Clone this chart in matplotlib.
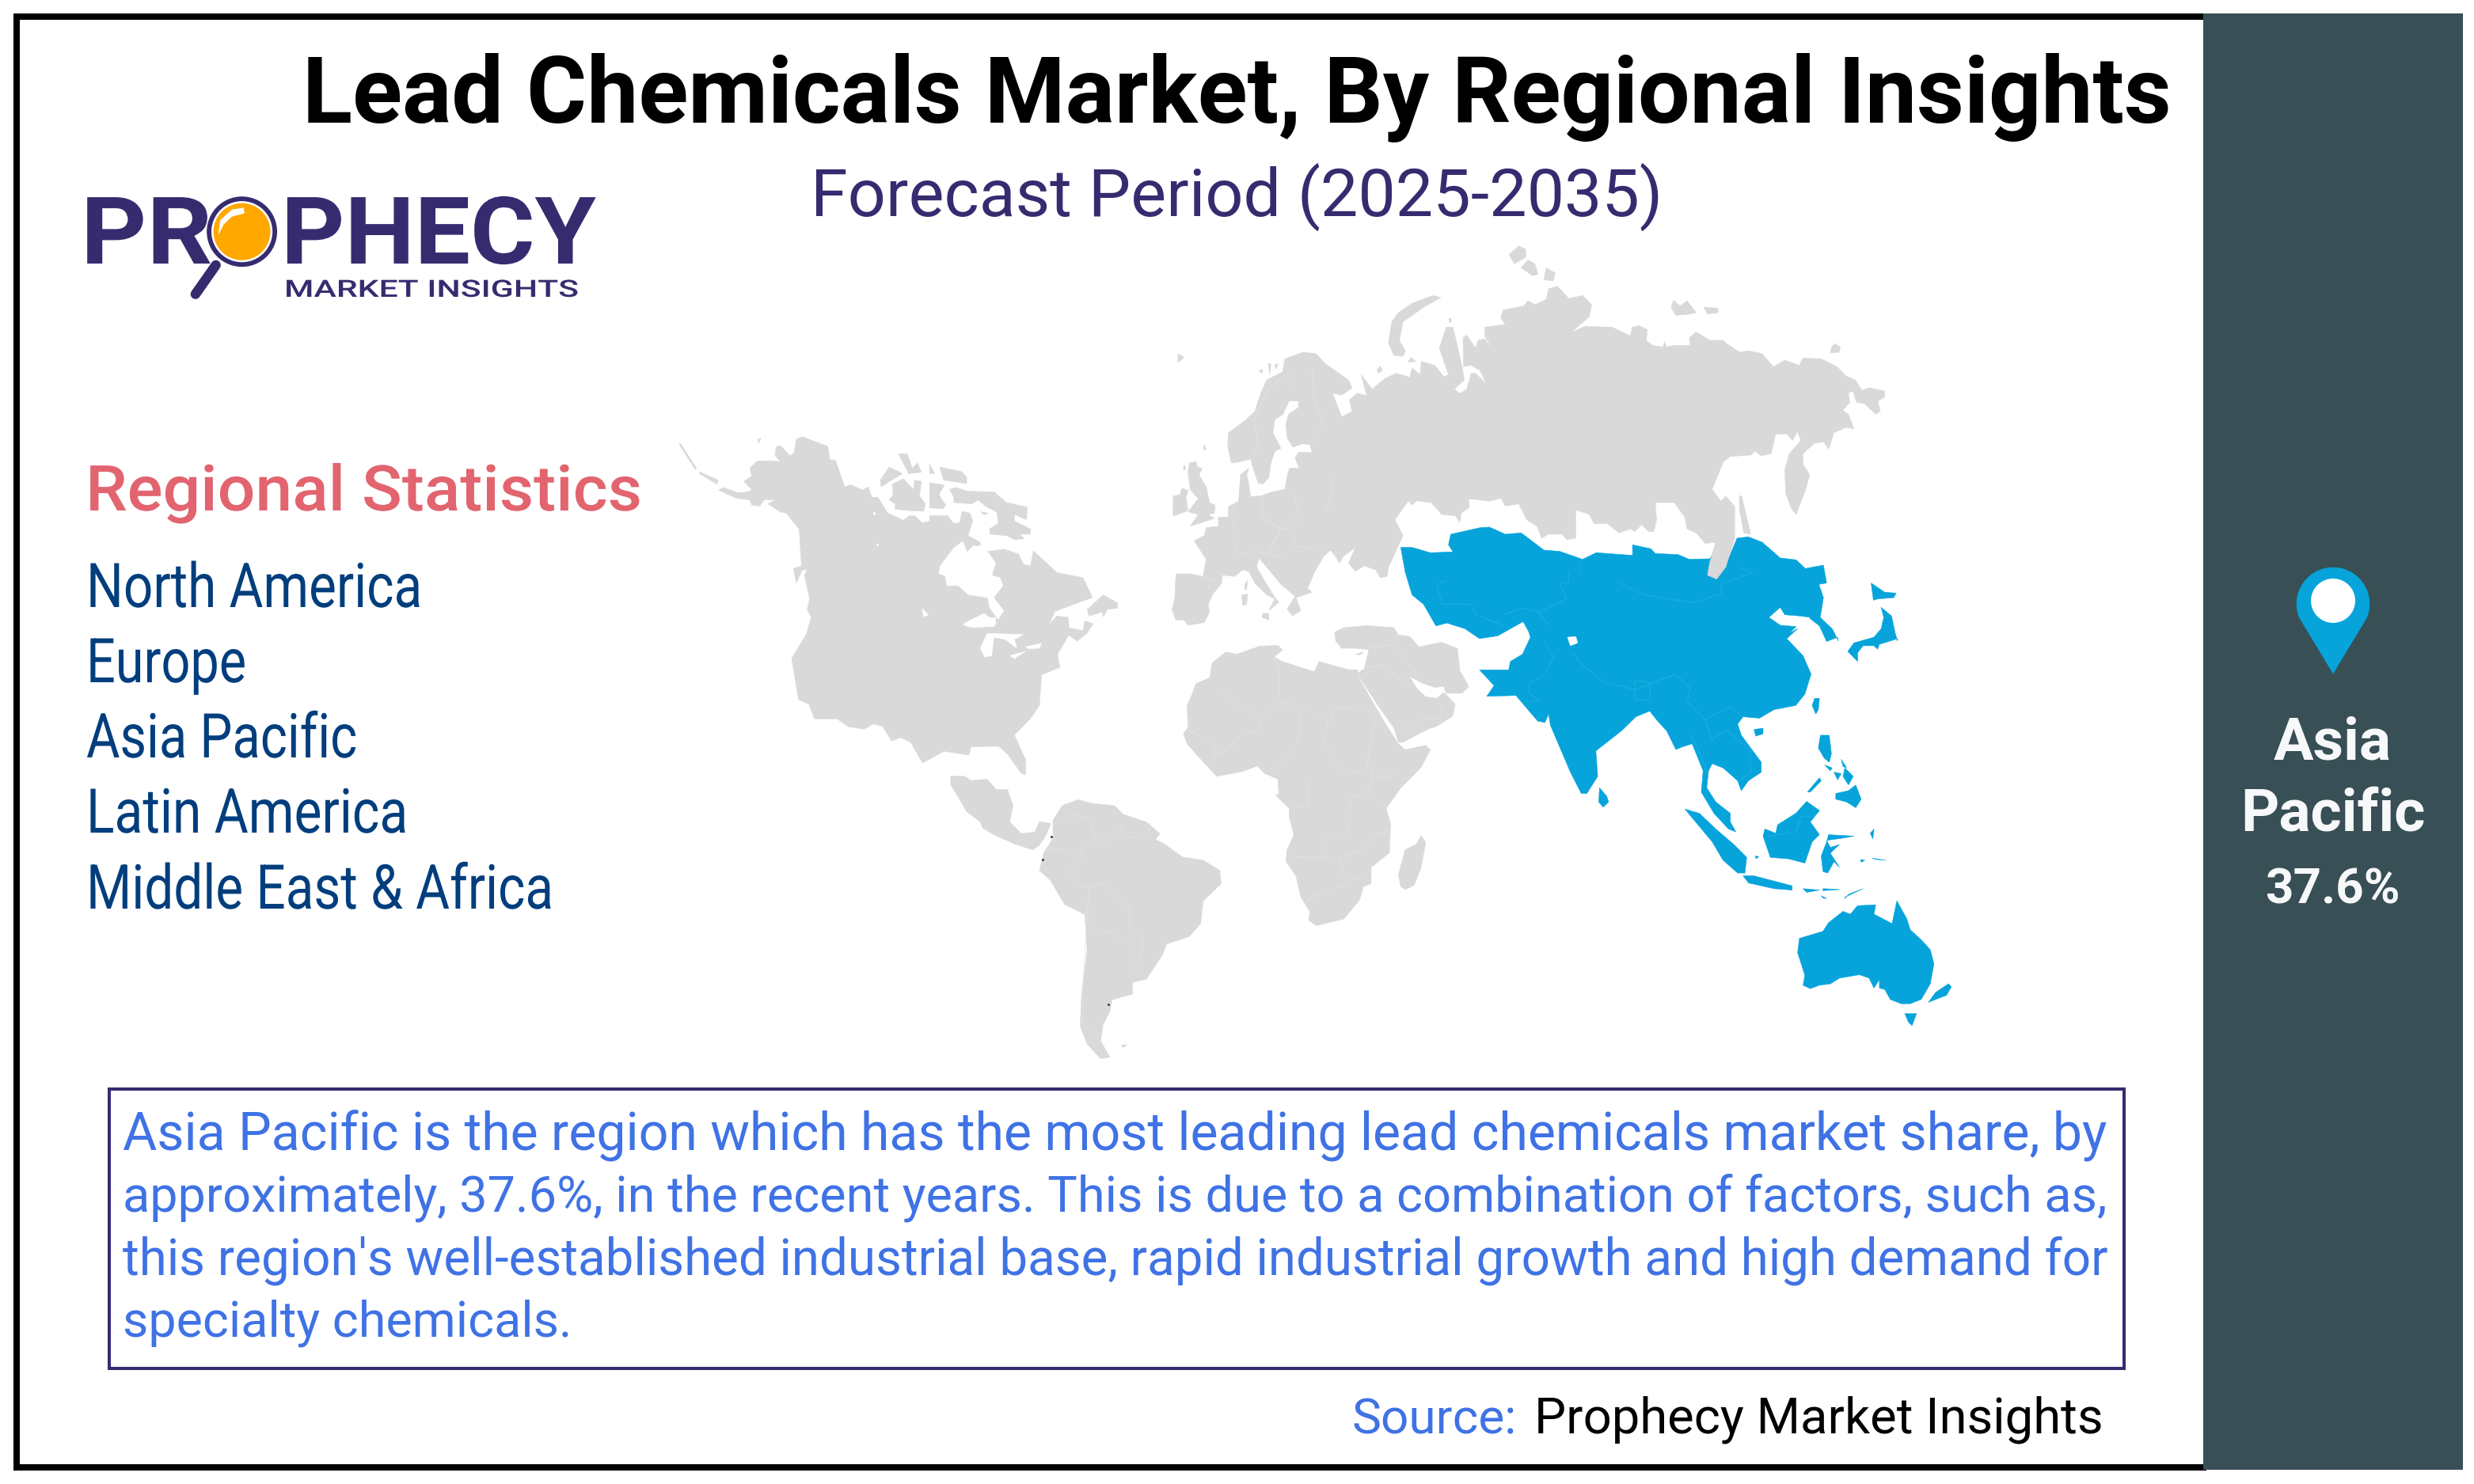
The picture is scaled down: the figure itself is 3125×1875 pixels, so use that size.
import numpy as np
import matplotlib
matplotlib.use("Agg")
import matplotlib.pyplot as plt
from matplotlib.patches import Polygon, Rectangle, Circle
from matplotlib.patheffects import AbstractPathEffect
from matplotlib.transforms import Affine2D

# ---------- text content ----------
TITLE = "Lead Chemicals Market, By Regional Insights"
SUBTITLE = "Forecast Period (2025-2035)"
STATS_HEAD = "Regional Statistics"
REGIONS = ["North America", "Europe", "Asia Pacific", "Latin America", "Middle East & Africa"]
BODY = ["Asia Pacific is the region which has the most leading lead chemicals market share, by",
        "approximately, 37.6%, in the recent years. This is due to a combination of factors, such as,",
        "this region's well-established industrial base, rapid industrial growth and high demand for",
        "specialty chemicals."]
SOURCE_LABEL = "Source:"
SOURCE_NAME = "Prophecy Market Insights"
TOP_REGION = ["Asia", "Pacific"]
TOP_SHARE = "37.6%"

# ---------- map outlines, traced in four reading frames (x0, y0, sx, sy) ----------
F1 = (840, 290, 1.96, 3.0)
F2 = (1600, 290, 1.742, 3.0)
F3 = (1000, 780, 1.742, 2.69)
F4 = (1800, 780, 2.178, 2.786)
F5 = (60, 210, 2.06, 3.0)

def fr(frame, pts):
    a = np.array(pts, float)
    return np.c_[frame[0] + a[:, 0] / frame[2], frame[1] + a[:, 1] / frame[3]]

NA_NORTH = [(133,988),(145,978),(180,998),(205,995),(215,985),(195,955),(215,935),(210,905),(228,877),(262,877),(285,880),(272,855),(275,825),(285,818),(310,858),(320,845),(325,795),(340,785),(365,800),(403,822),(408,872),(422,875),(445,975),(460,968),(490,988),(503,975),(512,1015),(527,1015),(552,1075),(590,1102),(605,1085),(618,1085),(637,1112),(655,1105),(655,1085),(700,1085),(715,1115),(730,1110),(735,1068),(755,1075),(762,1105),(750,1160),(780,1185),(782,1195),(770,1200),(765,1195),(748,1220),(738,1180),(715,1205),(680,1275),(677,1305),(693,1315),(697,1352),(725,1350),(750,1385),(798,1397),(803,1435),(825,1480),(840,1445),(815,1395),(838,1350),(830,1318),(810,1310),(820,1265),(800,1220),(840,1212),(875,1230),(888,1270),(905,1275),(912,1218),(970,1300),(1035,1320),(1058,1395),(1030,1410),(965,1448),(950,1500),(970,1465),(998,1470),(1000,1510),(1035,1520),(1040,1482),(1060,1495),(1045,1530),(1020,1560)]
NA_SOUTH = [(610,60),(585,125),(590,170),(550,195),(545,300),(525,345),(490,400),(515,485),(515,535),(505,530),(475,465),(455,438),(395,440),(390,468),(335,455),(288,495),(262,425),(240,408),(220,420),(200,370),(180,362),(160,380),(125,372),(100,345),(50,345),(38,295),(15,280),(0,140),(35,50),(45,0)]
NA_WEST = [(345,1560),(362,1470),(352,1440),(358,1400),(345,1310),(352,1290),(340,1290),(325,1340),(318,1285),(338,1275),(332,1135),(300,1075),(285,1070),(255,1040),(273,1025),(245,1025),(235,1048),(215,1045),(210,1025),(175,1018)]
NA_ISLANDS = [
    [(38,810),(78,905),(75,910),(35,815)], [(85,918),(132,950),(128,965),(85,925)],
    [(230,795),(238,790),(232,810)],
    [(533,950),(555,900),(588,925),(535,975)],
    [(563,965),(590,945),(615,985),(618,950),(635,955),(630,1010),(645,1040),(640,1068),(600,1065),(570,1060),(570,1040),(555,1025),(565,1005)],
    [(578,850),(600,850),(612,905),(625,885),(635,920),(603,925)],
    [(655,890),(668,925),(655,925)],
    [(680,900),(735,918),(747,940),(747,963),(690,950)],
    [(655,960),(692,968),(678,1005),(695,1045),(688,1058),(655,1055)],
    [(705,985),(720,978),(750,992),(815,995),(845,1035),(897,1052),(895,1100),(865,1080),(865,1105),(905,1135),(905,1155),(877,1155),(890,1172),(865,1175),(845,1160),(805,1155),(803,1135),(825,1115),(822,1072),(795,1050),(775,1025),(760,1040),(715,1035),(715,1015)],
    [(782,1070),(800,1075),(790,1082)],
    [(1045,1440),(1060,1420),(1085,1385),(1120,1415),(1120,1435),(1095,1440),(1085,1468),(1082,1450),(1050,1465)],
    [(1270,470),(1285,485),(1270,505)], [(1335,815),(1340,835),(1333,835)], [(1285,890),(1290,910),(1283,910)],
    [(1298,885),(1315,880),(1318,900),(1330,905),(1322,930),(1340,975),(1348,1035),(1362,1045),(1360,1075),(1345,1080),(1360,1095),(1330,1110),(1300,1125),(1320,1080),(1295,1070),(1320,1020),(1300,985),(1295,920)],
    [(1258,1010),(1275,1005),(1280,980),(1295,990),(1290,1015),(1295,1065),(1270,1080),(1258,1085)],
    [(1480,1455),(1495,1455),(1495,1480),(1478,1470)],
    [(1435,1345),(1442,1330),(1440,1365),(1435,1365)], [(1428,1385),(1442,1382),(1440,1420),(1430,1425)],
    [(1470,535),(1480,530),(1478,545)], [(1493,508),(1500,510),(1498,550)], [(1510,512),(1518,510),(1512,530)],
]
LAKES_F1 = [[(637,1435),(652,1462),(640,1467)], [(738,1495),(790,1455),(820,1490),(815,1505),(750,1505)], [(516,1072),(519,1072),(519,1080),(516,1080)], [(524,1190),(527,1190),(527,1198),(524,1198)]]
LAKES_F3 = [[(378,25),(400,5),(450,0),(445,30),(400,35)], [(430,55),(510,58),(490,75),(495,105),(470,75),(445,68),(440,130),(425,135),(415,105)], [(515,100),(550,88),(545,105),(520,107)], [(480,130),(515,115),(490,140)]]

EURASIA_E = [(105,1300),(125,1240),(140,1215),(150,1235),(160,1265),(168,1240),(195,1205),(180,1265),(195,1295),(215,1275),(240,1290),(250,1320),(265,1315),(268,1280),(300,1160),(282,1100),(312,1028),(320,1045),(330,1028),(362,1035),(385,1080),(415,1085),(425,1110),(428,1075),(445,1055),(445,1020),(490,1030),(515,1018),(525,1048),(555,1040),(572,1100),(595,1125),(605,1170),(620,1155),(650,1155),(660,1175),(680,1170),(680,1063),(710,1080),(720,1115),(750,1115),(775,1150),(800,1135),(810,1145),(825,1118),(840,1145),(852,1145),(858,1100),(855,1035),(897,1035),(920,1090),(925,1135),(945,1150),(965,1190),(988,1185),(975,1260),(970,1310),(990,1325),(1010,1280),(1030,1170),(1030,1050),(1010,1010),(1000,1030),(980,985),(1005,880),(1020,860),(1065,855),(1075,840),(1088,858),(1110,850),(1120,775),(1145,775),(1157,800),(1168,765),(1175,800),(1150,850),(1140,910),(1142,1000),(1155,1060),(1165,1080),(1185,990),(1195,930),(1180,890),(1180,850),(1205,810),(1225,805),(1237,832),(1248,770),(1275,750),(1292,755),(1280,700),(1268,685),(1283,655),(1280,620),(1290,612),(1298,655),(1315,660),(1340,700),(1350,690),(1345,650),(1360,635),(1360,612),(1325,600),(1310,610),(1295,570),(1275,555),(1255,520),(1220,490),(1180,487),(1172,515),(1140,495),(1115,520),(1090,470),(1060,460),(1040,465),(1010,430),(1005,420),(975,420),(945,388),(930,410),(932,440),(895,440),(880,445),(875,425),(872,445),(850,440),(835,420),(838,380),(820,365),(805,370),(800,403),(760,370),(700,367),(670,390),(710,330),(715,285),(695,250),(665,262),(640,215),(620,225),(615,265),(590,285),(575,270),(565,290),(520,305),(515,335),(525,360),(480,370),(480,405),(503,470),(480,415),(465,420),(460,450),(440,400),(432,410),(433,520),(450,515),(470,535),(483,585),(460,545),(450,545),(440,605),(425,622),(413,605),(435,570),(430,520),(410,370),(395,370),(380,450),(400,550),(390,558),(370,515),(340,500),(338,550),(320,525),(315,560),(285,545),(260,565),(232,605),(208,550),(220,630),(200,620),(182,645),(188,690),(165,710),(145,620),(165,628),(188,600),(180,570),(130,510),(108,470),(80,465),(40,490),(35,540),(0,570)]
EURASIA_NORWAY = [(1475,620),(1460,690),(1435,725),(1395,770),(1393,820),(1402,885),(1425,880),(1450,870),(1455,900),(1468,960),(1480,965),(1495,940),(1500,885),(1510,840),(1525,830),(1505,770),(1510,720),(1530,700),(1545,650)]
EURASIA_FINLAND = [(70,650),(70,675),(48,700),(42,740),(45,790),(58,825),(78,812),(95,815),(100,845),(70,845),(62,865),(72,905),(50,905),(45,935),(40,985),(10,995)]
EURASIA_WEST = [(1475,1010),(1450,1012),(1445,960),(1440,930),(1445,905),(1425,930),(1420,1030),(1395,1050),(1395,1090),(1370,1090),(1370,1125),(1340,1130),(1335,1160),(1310,1180),(1340,1250),(1332,1315),(1300,1305),(1265,1305),(1262,1400),(1255,1440),(1265,1480),(1285,1480),(1295,1500),(1335,1490),(1348,1450),(1345,1420),(1355,1385),(1378,1340),(1380,1310),(1410,1315),(1430,1290),(1445,1295),(1460,1340),(1490,1385),(1510,1400),(1495,1445),(1520,1412),(1510,1395),(1480,1320),(1465,1280),(1470,1245),(1490,1280),(1525,1345),(1560,1390),(1540,1440),(1555,1465)]
EURASIA_BALKAN = [(55,1465),(75,1445),(65,1395),(100,1375),(90,1360)]
ARCTIC_F2 = [
    [(365,250),(383,258),(345,295),(300,350),(292,420),(305,460),(300,480),(280,478),(268,430),(275,350),(290,315),(320,280)],
    [(555,62),(570,75),(570,105),(545,130),(533,95)], [(575,115),(590,130),(597,170),(585,175),(560,145)],
    [(615,145),(635,165),(630,195),(610,190)], [(402,335),(407,340),(405,352),(401,350)],
    [(895,268),(910,290),(925,270),(945,315),(925,322),(900,325),(890,295)], [(962,295),(993,298),(993,315),(970,320)],
    [(1250,432),(1262,445),(1260,465),(1240,468),(1243,445)], [(250,518),(255,535),(245,545),(243,530)],
    [(318,485),(328,500),(310,503)], [(1040,1010),(1045,1010),(1065,1155),(1050,1150),(1040,1060)],
]
MIDEAST = [(1195,50),(1215,35),(1265,28),(1325,35),(1335,60),(1360,65),(1380,100),(1430,85),(1465,105),(1470,180),(1490,235),(1475,258),(1440,258),(1435,235),(1415,238),(1385,222),(1360,200),(1365,215),(1375,240),(1395,270),(1420,275),(1435,255),(1460,295),(1455,335),(1420,370),(1400,380),(1375,400),(1345,425),(1335,425),(1325,375),(1290,300),(1250,205),(1245,190),(1260,175),(1270,110),(1240,105),(1210,105),(1197,80)]
AFRICA = [(1245,178),(1225,178),(1160,150),(1150,185),(1120,170),(1080,150),(1062,135),(1080,110),(1070,95),(1030,98),(980,125),(955,118),(925,155),(920,205),(890,225),(880,265),(870,300),(872,375),(862,395),(870,430),(905,490),(935,540),(990,525),(1025,505),(1040,530),(1070,550),(1072,600),(1065,605),(1095,650),(1095,680),(1105,740),(1090,790),(1088,830),(1110,880),(1120,950),(1140,1000),(1138,1030),(1155,1048),(1215,1025),(1250,960),(1258,915),(1275,905),(1275,850),(1315,800),(1318,700),(1308,650),(1340,580),(1385,510),(1405,450),(1395,435),(1350,450),(1335,430),(1310,370),(1285,305),(1248,205)]
MADAGASCAR = [(1385,742),(1395,765),(1385,850),(1370,910),(1350,925),(1340,915),(1335,875),(1350,790),(1375,770)]
MEXICO = [(350,540),(380,540),(395,555),(430,550),(450,585),(475,585),(487,640),(480,695),(505,735),(535,730),(545,695),(570,700),(560,740),(545,775),(530,790),(490,770),(440,735),(420,715),(415,695),(385,660),(370,620),(350,570)]
SOUTH_AMERICA = [(575,690),(595,640),(630,620),(660,632),(710,640),(730,670),(780,695),(810,735),(800,755),(820,770),(860,815),(905,825),(942,860),(945,905),(905,965),(900,1040),(875,1085),(825,1110),(815,1150),(780,1230),(750,1240),(750,1280),(705,1300),(700,1340),(685,1385),(680,1440),(700,1495),(680,1500),(650,1450),(635,1390),(638,1280),(650,1130),(645,1010),(600,975),(570,895),(545,860),(555,800),(575,750)]
SMALL_F3 = [[(1240,125),(1258,118),(1250,128)], [(725,1455),(738,1452),(730,1462)]]
SPECKS_F3 = [(553,822),(572,744),(697,1315)]

ASIA_N = [(295,1205),(320,1205),(360,1225),(410,1222),(400,1195),(405,1155),(470,1130),(490,1128),(525,1155),(560,1150),(610,1215),(645,1220),(695,1250),(725,1225),(805,1235),(805,1195),(845,1210),(855,1228),(905,1232),(930,1250),(975,1248),(985,1220),(1018,1240),(1035,1170),(1060,1165),(1090,1185),(1130,1245),(1165,1252),(1185,1285),(1225,1272),(1232,1340),(1215,1345),(1225,1395),(1218,1470),(1245,1515),(1258,1560)]
ASIA_KOREA = [(1135,70),(1105,85),(1085,30),(1060,5)]
ASIA_BOHAI = [(1195,1470),(1175,1465),(1140,1460),(1130,1432),(1105,1470),(1130,1500),(1165,1505),(1150,1530)]
ASIA_S = [(1025,40),(995,75),(1040,135),(1062,200),(1045,270),(1020,310),(960,325),(920,355),(875,350),(860,375),(870,415),(925,510),(925,545),(890,575),(870,610),(860,575),(820,530),(790,515),(780,540),(775,600),(800,650),(840,690),(840,720),(855,755),(835,745),(795,690),(760,615),(765,540),(735,445),(710,455),(690,465),(665,400),(640,365),(618,330),(580,350),(540,400),(500,440),(470,470),(475,560),(445,620),(430,620),(400,545),(345,380),(340,340),(330,370),(310,365),(290,335),(250,275),(170,278),(190,240),(150,185),(230,185),(235,155),(268,130),(290,70),(285,50),(270,15),(200,65),(150,75),(110,40),(60,20),(30,30)]
ASIA_W = [(345,1420),(320,1385),(305,1300)]
HOLE_F4 = [(392,70),(415,68),(420,90),(400,100)]
HONSHU_N = [(1352,1432),(1375,1465),(1383,1530),(1388,1560)]
HONSHU_S = [(1300,75),(1250,95),(1245,112),(1235,100),(1205,100),(1190,125),(1190,155),(1163,120),(1180,90),(1235,70),(1255,40),(1262,0)]
HOKKAIDO = [(1330,1340),(1360,1375),(1385,1378),(1380,1395),(1345,1400),(1335,1405)]
ISLANDS_F4 = [
    [(1072,285),(1085,285),(1082,325),(1075,340),(1065,310)], [(905,395),(930,390),(930,410),(910,418)],
    [(480,600),(500,630),(505,650),(490,668),(478,650)], [(1088,415),(1112,415),(1118,480),(1112,510),(1098,495),(1082,460)],
    [(1100,520),(1120,530),(1115,540)], [(1125,545),(1145,550),(1135,572)], [(1155,530),(1178,560),(1165,590),(1150,560)], [(1145,500),(1160,530),(1150,525)],
    [(1185,590),(1200,640),(1185,670),(1160,650),(1130,640),(1130,620),(1165,610)], [(1085,565),(1090,575),(1060,615),(1052,615)],
    [(715,675),(755,690),(800,745),(850,800),(885,845),(880,900),(860,900),(820,855),(790,790)],
    [(1050,648),(1085,680),(1060,720),(1085,765),(1065,790),(1045,865),(1000,850),(950,845),(930,770),(935,745),(965,760),(970,730),(1020,690)],
    [(1110,765),(1180,770),(1145,778),(1105,785),(1115,810),(1140,800),(1115,830),(1140,880),(1125,860),(1108,900),(1095,895),(1090,840),(1105,790)],
    [(875,910),(905,910),(1010,945),(1010,960),(960,955),(890,935)], [(1040,955),(1085,960),(1050,968)], [(1095,955),(1140,958),(1095,962)],
    [(1155,985),(1205,955),(1165,975),(1155,990)], [(1090,980),(1105,990),(1095,988)], [(1198,852),(1210,855),(1200,862)], [(1230,848),(1268,855),(1240,852)],
    [(908,840),(918,842),(912,850)], [(1225,760),(1235,745),(1232,780)],
    [(1298,998),(1325,1060),(1335,1100),(1365,1135),(1390,1170),(1400,1220),(1390,1290),(1365,1345),(1335,1360),(1310,1360),(1280,1345),(1265,1310),(1250,1305),(1250,1275),(1235,1305),(1222,1270),(1195,1258),(1140,1270),(1115,1290),(1085,1295),(1060,1307),(1040,1295),(1045,1260),(1025,1180),(1030,1130),(1095,1105),(1110,1075),(1150,1035),(1170,1045),(1190,1015),(1240,1012),(1235,1045),(1285,1078)],
    [(1320,1395),(1352,1395),(1340,1437),(1330,1425)], [(1440,1290),(1448,1300),(1435,1330),(1385,1355),(1405,1320)],
]
BORDERS_F3 = [
    [(1060,135),(1072,180),(1072,270),(1085,290),(1120,300),(1180,350)], [(1085,290),(1040,335),(1030,340),(1030,385),(990,395),(960,450),(935,465)],
    [(1185,350),(1190,310),(1250,305),(1285,330)], [(945,260),(1030,340)], [(870,380),(920,420),(935,460),(925,500)],
    [(1120,300),(1120,400),(1095,470),(1060,530)], [(1180,350),(1170,430),(1210,520),(1270,530),(1300,545),(1330,535)],
    [(1285,340),(1275,430),(1265,500),(1280,530),(1265,600),(1310,645)], [(1095,650),(1135,640),(1140,540)],
    [(1090,810),(1170,820),(1205,820),(1260,785),(1280,740),(1315,725)], [(1205,820),(1215,870),(1245,885),(1275,860)],
    [(1245,885),(1210,910),(1180,935),(1150,945),(1130,970)], [(1170,820),(1165,770),(1190,740),(1225,740),(1230,610),(1265,605)],
    [(575,700),(620,670),(660,690),(665,750),(640,770),(640,810),(600,790),(555,790)], [(665,750),(690,760),(725,710),(735,750),(780,745),(790,700)],
    [(640,810),(610,870),(640,915),(655,920),(680,905),(720,950),(745,990),(745,1060),(775,1100),(770,1140),(745,1200),(780,1215)],
    [(655,920),(650,1010),(665,1075),(700,1068),(745,1110),(745,1135),(770,1140)], [(650,1010),(640,1280),(640,1380),(680,1440)],
    [(1270,100),(1330,95),(1350,150),(1375,190)], [(1260,170),(1300,165),(1355,230)], [(1330,400),(1380,350),(1430,340),(1430,300)],
]
BORDERS_F1 = [[(1330,1315),(1378,1340)], [(1415,1030),(1400,1090),(1420,1150),(1410,1240),(1440,1225),(1470,1220),(1525,1240)],
              [(1478,1010),(1480,1090),(1525,1135),(1495,1230)], [(1525,1135),(1568,1130)],
              [(1540,545),(1495,600),(1465,700),(1460,720),(1468,820),(1455,870)], [(1540,545),(1555,590)]]
BORDERS_F2 = [[(100,530),(105,640),(125,740),(100,810)], [(60,1000),(70,1080),(30,1135),(0,1105)], [(30,1135),(10,1200),(0,1220)], [(140,930),(145,1000),(130,1070)], [(60,1130),(60,1200),(125,1215)]]
ASIA_LINES_F2 = [[(395,1330),(375,1345),(385,1420),(450,1420),(460,1460),(520,1500)], [(770,1335),(830,1385),(940,1415),(1000,1380),(1000,1345),(1070,1300),(1040,1280)], [(690,1260),(690,1300)], [(665,1295),(665,1335),(645,1345),(660,1400),(600,1450),(620,1500)], [(520,1460),(560,1435),(600,1450)]]
ASIA_LINES_F4 = [[(330,90),(355,140),(320,215),(290,225),(285,265),(315,295),(280,295)], [(405,125),(440,175),(495,230),(580,255),(625,230),(690,200),(730,250),(720,295),(770,360),(800,340),(840,315),(875,350)], [(730,410),(745,450),(770,520),(775,545)], [(770,360),(790,430),(830,395),(895,470),(895,545),(870,570)], [(580,220),(620,230),(620,290),(580,290),(575,220)], [(945,770),(1020,755),(1035,700),(1060,700)]]

# ---------- colours ----------
GRAY = "#D9D9D9"; BLUE = "#06A4DB"; PANEL = "#374F55"; PURPLE = "#372B70"; RED = "#E2646F"
NAVY = "#023E7D"; BODY_BLUE = "#3F72E5"; ORANGE = "#FFA800"


class Squeeze(AbstractPathEffect):
    """Scale a text horizontally about its left anchor (the text stays a real Text)."""
    def __init__(self, x0, sx):
        super().__init__()
        self.x0, self.sx = x0, sx

    def draw_path(self, renderer, gc, tpath, affine, rgbFace=None):
        a = affine + Affine2D().translate(-self.x0, 0).scale(self.sx, 1).translate(self.x0, 0)
        renderer.draw_path(gc, tpath, a, rgbFace)


fig = plt.figure(figsize=(31.25, 18.75), dpi=100, facecolor="white")
ax = fig.add_axes([0, 0, 1, 1])
ax.set_xlim(0, 3125); ax.set_ylim(1875, 0); ax.axis("off")
rend = fig.canvas.get_renderer()

def text(x, y, s, px, width=None, squeeze=False, **kw):
    kw.setdefault("family", "Roboto")
    t = ax.text(x, y, s, fontsize=px * 0.72, va="baseline", **kw)
    if width:
        w = t.get_window_extent(rend).width
        if squeeze:
            t.set_path_effects([Squeeze(x, width / w)])
        else:
            t.set_fontsize(px * 0.72 * width / w)
    return t

def poly(pts, color, z=2):
    ax.add_patch(Polygon(pts, closed=True, fc=color, ec=color, lw=0.4, zorder=z, joinstyle="round"))

# frame
ax.add_patch(Rectangle((17, 17), 2770, 8, fc="black", ec="none"))
ax.add_patch(Rectangle((17, 17), 8, 1841, fc="black", ec="none"))
ax.add_patch(Rectangle((17, 1850), 2770, 8, fc="black", ec="none"))
ax.add_patch(Rectangle((2783, 17), 328, 1840, fc=PANEL, ec="none", zorder=3))

# map : blue first, gray on top
asia = np.vstack([fr(F2, ASIA_N), fr(F4, ASIA_KOREA), fr(F2, ASIA_BOHAI), fr(F4, ASIA_S), fr(F2, ASIA_W)])
poly(asia, BLUE, 2)
poly(np.vstack([fr(F2, HONSHU_N), fr(F4, HONSHU_S)]), BLUE, 2)
poly(fr(F2, HOKKAIDO), BLUE, 2)
for p in ISLANDS_F4:
    poly(fr(F4, p), BLUE, 2)
poly(fr(F4, HOLE_F4), "white", 2.1)
for ln in ASIA_LINES_F2:
    a = fr(F2, ln); ax.plot(a[:, 0], a[:, 1], color="#2FB2E0", lw=0.5, zorder=2.2)
for ln in ASIA_LINES_F4:
    a = fr(F4, ln); ax.plot(a[:, 0], a[:, 1], color="#2FB2E0", lw=0.5, zorder=2.2)

poly(np.vstack([fr(F1, NA_NORTH), fr(F3, NA_SOUTH), fr(F1, NA_WEST)]), GRAY, 2.5)
for p in NA_ISLANDS:
    poly(fr(F1, p), GRAY, 2.5)
for p in LAKES_F1:
    poly(fr(F1, p), "white", 2.6)
for p in LAKES_F3:
    poly(fr(F3, p), "white", 2.6)
eur = np.vstack([fr(F2, EURASIA_E), fr(F1, EURASIA_NORWAY), fr(F2, EURASIA_FINLAND), fr(F1, EURASIA_WEST), fr(F2, EURASIA_BALKAN)])
poly(eur, GRAY, 2.5)
for p in ARCTIC_F2:
    poly(fr(F2, p), GRAY, 2.5)
for p in [MIDEAST, AFRICA, MADAGASCAR, MEXICO, SOUTH_AMERICA] + SMALL_F3:
    poly(fr(F3, p), GRAY, 2.5)
for frame, group in ((F3, BORDERS_F3), (F1, BORDERS_F1), (F2, BORDERS_F2)):
    for ln in group:
        a = fr(frame, ln); ax.plot(a[:, 0], a[:, 1], color="#E4E4E4", lw=0.5, zorder=2.7)
s = fr(F3, SPECKS_F3)
ax.plot(s[:, 0], s[:, 1], ls="none", marker="s", ms=1.0, color="#333333", zorder=2.8)

# titles
text(382, 155, TITLE, 120, width=2361, weight="bold", color="black")
text(1024, 273, SUBTITLE, 84, width=1076, color=PURPLE)

# logo
text(102, 333, "PR", 118, width=166, squeeze=True, weight="bold", color=PURPLE)
text(355, 333, "PHECY", 118, width=398, squeeze=True, weight="bold", color=PURPLE)
text(359, 375, "MARKET INSIGHTS", 30, width=372, squeeze=True, weight="medium", color=PURPLE)
ax.add_patch(Circle((305.6, 292.7), 41.5, fc="white", ec=PURPLE, lw=4.2, zorder=4))
ax.add_patch(Circle((305.6, 292.7), 36, fc=ORANGE, ec="none", zorder=4.1))
crescent = [(445,258),(450,205),(480,165),(510,158),(512,178),(480,190),(458,220)]
poly(fr(F5, crescent), "white", 4.2)
hnd = fr(F5, [(438,375),(385,485)])
ax.plot(hnd[:, 0], hnd[:, 1], color=PURPLE, lw=9, solid_capstyle="round", zorder=4)

# region statistics
text(108, 645, STATS_HEAD, 80, width=703, squeeze=True, color=RED, weight="medium")
for y, r, w in zip([767, 862, 957, 1052, 1148], REGIONS, [424, 202, 342, 406, 590]):
    text(109, y, r, 78, width=w, squeeze=True, color=NAVY)

# description box
ax.add_patch(Rectangle((138, 1376), 2545, 353, fc="none", ec=PURPLE, lw=2.9, zorder=5))
for y, ln, w in zip([1454, 1530, 1610, 1689], BODY, [2510, 2506, 2510, 568]):
    text(155, y, ln, 64, width=w, color=BODY_BLUE)
text(1708, 1811, SOURCE_LABEL, 62, width=208, color=BODY_BLUE)
text(1938, 1811, SOURCE_NAME, 62, width=718, color="black")

# side panel
cx, cy, r = 2947, 763, 46
t = np.radians(np.linspace(-22, 202, 80))
pin = np.vstack([np.c_[cx + r * np.cos(t), cy - r * np.sin(t)], [[cx, 851]]])
poly(pin, BLUE, 6)
ax.add_patch(Circle((cx, 759), 28, fc="white", ec="none", zorder=7))
text(2946, 960, TOP_REGION[0], 75, weight="bold", color="#F7F8FA", ha="center", zorder=7)
text(2947, 1050, TOP_REGION[1], 75, weight="bold", color="#F7F8FA", ha="center", zorder=7)
text(2946, 1141, TOP_SHARE, 62, weight="bold", color="#F7F8FA", ha="center", zorder=7)

fig.savefig("out.png", dpi=100, facecolor="white")
